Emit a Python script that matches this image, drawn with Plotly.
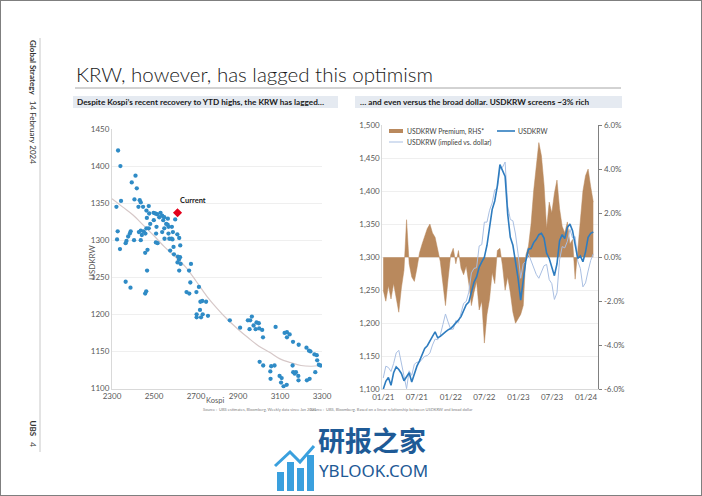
import plotly.graph_objects as go
import pandas as pd

W, H = 702, 496

# ---------------- Left chart data (Kospi vs USDKRW, weekly since Jan 2021) ----------------
kospi = [2329, 2340, 2343, 2321, 2327, 2324, 2338, 2412, 2394, 2418, 2407, 2432, 2437, 2426, 2448,
         2475, 2464, 2477, 2466, 2498, 2506, 2515, 2531, 2525, 2539, 2499, 2549, 2544, 2566, 2558,
         2565, 2601, 2569, 2482, 2512, 2549, 2464, 2437, 2451, 2428, 2389, 2385, 2377, 2369, 2365,
         2459, 2442, 2437, 2405, 2475, 2510, 2539, 2569, 2585, 2590, 2584, 2611, 2620, 2625, 2588,
         2573, 2550, 2509, 2517, 2593, 2469, 2458, 2577, 2595, 2614, 2624,
         2612, 2619, 2627, 2620, 2676, 2667, 2467, 2365, 2388, 2458, 2463, 2673, 2714, 2655, 2668,
         2702, 2730, 2721, 2748, 2719, 2732, 2703, 2703, 2724, 2757, 2861, 2947, 2958, 2966, 2988,
         2999, 2974, 2910, 2955, 2984, 3001, 3015, 3019, 3079, 3122, 3133, 3146, 3133, 3162, 3189,
         3226, 3238, 3245, 3264, 3275, 3277, 3285, 3293, 3003, 3020, 3058, 3074, 3054, 3160, 3163,
         3176, 3187, 3170, 3055, 3098, 3108, 3105, 3117, 3132, 3228, 3241, 3268, 3188]
usdkrw = [1421, 1400, 1353, 1345, 1312, 1301, 1288, 1387, 1378, 1370, 1355, 1354, 1351, 1345, 1345,
          1346, 1340, 1336, 1330, 1337, 1336, 1335, 1337, 1331, 1333, 1327, 1331, 1327, 1329, 1322,
          1321, 1328, 1318, 1322, 1318, 1316, 1316, 1313, 1312, 1311, 1312, 1309, 1305, 1299, 1296,
          1309, 1307, 1300, 1300, 1316, 1309, 1311, 1309, 1318, 1311, 1302, 1308, 1303, 1293, 1301,
          1302, 1302, 1297, 1296, 1291, 1287, 1283, 1286, 1281, 1278, 1277,
          1270, 1274, 1268, 1259, 1268, 1259, 1259, 1244, 1236, 1228, 1231, 1243, 1237, 1230, 1228,
          1230, 1218, 1217, 1217, 1206, 1200, 1200, 1196, 1196, 1198, 1192, 1192, 1192, 1197, 1189,
          1188, 1185, 1182, 1180, 1180, 1181, 1179, 1169, 1183, 1175, 1176, 1173, 1169, 1163, 1159,
          1155, 1151, 1150, 1146, 1145, 1138, 1132, 1131, 1136, 1131, 1130, 1131, 1123, 1131, 1122,
          1122, 1117, 1120, 1113, 1117, 1114, 1108, 1103, 1105, 1111, 1113, 1122, 1111]
trend_kospi = [2300, 2350, 2400, 2450, 2500, 2550, 2600, 2650, 2700, 2750, 2800, 2850, 2900,
               2950, 3000, 3050, 3100, 3150, 3200, 3250, 3290]
trend_usdkrw = [1356, 1345, 1334, 1320, 1306, 1291, 1278, 1264, 1245, 1225, 1208, 1193, 1180,
                1168, 1157, 1149, 1140, 1135, 1131, 1130, 1131]
current_kospi = [2612]
current_usdkrw = [1337]
left_yticks = [1100, 1150, 1200, 1250, 1300, 1350, 1400, 1450]
left_xticks = [2300, 2500, 2700, 2900, 3100, 3300]

# ---------------- Right chart data (bi-weekly, Jan 2021 - Feb 2024) ----------------
dates = pd.date_range("2021-01-01", periods=82, freq="14D")
premium_pct = [-1.5, -2.0, -1.3, -1.9, -1.2, -1.8, -2.5, -1.4, -0.6, 1.7,
               -0.3, -0.9, -1.1, -0.5, 0.2, 0.6, 1.0, 1.3, 1.5, 1.1,
               0.9, 0.3, -0.2, -1.2, -2.2, -1.0, 0.1, 0.4, -0.3, 0.3,
               -0.5, -0.8, -0.4, -1.2, -2.2, -1.6, -1.1, -2.4, -2.0, -3.9,
               -2.6, -1.9, -0.7, -1.2, 0.3, 0.4, -0.4, -1.5, -0.9, -1.6,
               -2.5, -3.0, -2.8, -2.6, -2.2, 0.1, 0.5, 1.5, 3.0, 4.2,
               5.2, 4.6, 3.3, 1.3, 2.5, 2.0, 2.9, 3.5, 2.2, 1.4,
               1.1, 1.6, 0.6, 0.8, -1.0, 0.3, 1.5, 3.0, 3.7, 4.0,
               3.2, 2.5]
usdkrw_actual = [1100, 1112, 1118, 1106, 1125, 1134, 1130, 1124, 1113, 1120,
                 1125, 1111, 1125, 1135, 1143, 1152, 1162, 1166, 1172, 1180,
                 1187, 1178, 1180, 1184, 1187, 1190, 1192, 1196, 1200, 1205,
                 1210, 1220, 1228, 1232, 1248, 1262, 1270, 1285, 1293, 1300,
                 1318, 1345, 1372, 1385, 1408, 1440, 1430, 1422, 1365, 1330,
                 1318, 1295, 1268, 1235, 1262, 1295, 1312, 1313, 1322, 1327,
                 1334, 1336, 1329, 1306, 1298, 1285, 1272, 1290, 1325, 1334,
                 1328, 1345, 1350, 1340, 1318, 1298, 1302, 1293, 1308, 1330,
                 1336, 1338]
usdkrw_implied = [1117, 1135, 1133, 1127, 1139, 1155, 1159, 1140, 1120, 1101,
                  1128, 1121, 1138, 1141, 1141, 1145, 1150, 1151, 1155, 1167,
                  1176, 1175, 1182, 1198, 1214, 1202, 1191, 1191, 1204, 1201,
                  1216, 1230, 1233, 1247, 1276, 1283, 1284, 1317, 1319, 1353,
                  1353, 1371, 1382, 1402, 1404, 1434, 1436, 1444, 1377, 1357,
                  1355, 1335, 1305, 1268, 1290, 1294, 1305, 1294, 1283, 1274,
                  1268, 1277, 1287, 1289, 1266, 1260, 1236, 1246, 1296, 1316,
                  1314, 1324, 1342, 1329, 1331, 1294, 1283, 1255, 1261, 1279,
                  1295, 1305]
right_lticks = [1100, 1150, 1200, 1250, 1300, 1350, 1400, 1450, 1500]
right_rticks = [-6, -4, -2, 0, 2, 4, 6]
right_rlabels = ["-6.0%", "-4.0%", "-2.0%", "0.0%", "2.0%", "4.0%", "6.0%"]

# ---------------- colours / helpers ----------------
BLUE_DOT = "#2f8bc6"
RED = "#e3001b"
TREND = "#d6c8c8"
BROWN = "#b9895d"
BLUE_LINE = "#2e7cbf"
LIGHT_LINE = "#a9bfe2"
TICK_FONT = dict(family="Lato, Open Sans, sans-serif", size=8, color="#595959")
GRID = "#efefef"
AXLINE = "#d9d9d9"


def px(x):
    return x / W


def py(y):
    return 1 - y / H


fig = go.Figure()

# left chart
fig.add_trace(go.Scatter(x=trend_kospi, y=trend_usdkrw, mode="lines",
                         line=dict(color=TREND, width=1.2, shape="spline"),
                         xaxis="x", yaxis="y", hoverinfo="skip"))
fig.add_trace(go.Scatter(x=kospi, y=usdkrw, mode="markers",
                         marker=dict(color=BLUE_DOT, size=4.3),
                         xaxis="x", yaxis="y", name="Weekly"))
fig.add_trace(go.Scatter(x=current_kospi, y=current_usdkrw, mode="markers",
                         marker=dict(color=RED, size=7, symbol="diamond"),
                         xaxis="x", yaxis="y", name="Current"))

# right chart
fig.add_trace(go.Scatter(x=dates, y=premium_pct, mode="lines", fill="tozeroy",
                         fillcolor=BROWN, line=dict(color=BROWN, width=0.5),
                         xaxis="x2", yaxis="y2", name="USDKRW Premium, RHS*"))
fig.add_trace(go.Scatter(x=dates, y=usdkrw_implied, mode="lines",
                         line=dict(color=LIGHT_LINE, width=1),
                         xaxis="x2", yaxis="y3", name="USDKRW (implied vs. dollar)"))
fig.add_trace(go.Scatter(x=dates, y=usdkrw_actual, mode="lines",
                         line=dict(color=BLUE_LINE, width=1.6),
                         xaxis="x2", yaxis="y3", name="USDKRW"))

fig.update_layout(
    width=W, height=H,
    margin=dict(l=0, r=0, t=0, b=0),
    paper_bgcolor="white", plot_bgcolor="white",
    showlegend=False,
    font=dict(family="Lato, Open Sans, sans-serif", color="#404040"),
    xaxis=dict(domain=[px(112), px(322)], range=[2300, 3300], tickvals=left_xticks,
               showgrid=False, zeroline=False, showline=True, linecolor=AXLINE,
               ticks="", tickfont=TICK_FONT, anchor="y", automargin=False),
    yaxis=dict(domain=[py(388.5), py(129)], range=[1100, 1450], tickvals=left_yticks,
               showgrid=True, gridcolor=GRID, zeroline=False, showline=True,
               linecolor=AXLINE, ticks="", tickfont=TICK_FONT, anchor="x",
               automargin=False),
    xaxis2=dict(domain=[px(382.3), px(598.3)], type="date",
                range=["2020-12-27", "2024-03-07"], tick0="2021-01-01", dtick="M6",
                tickformat="%m/%y", showgrid=False, zeroline=False, showline=True,
                linecolor=AXLINE, ticks="", tickfont=TICK_FONT, anchor="y2",
                automargin=False),
    yaxis2=dict(domain=[py(389.3), py(125)], range=[-6, 6], side="right", anchor="x2",
                tickvals=right_rticks, ticktext=right_rlabels, showgrid=False,
                zeroline=False, showline=True, linecolor="#808080", linewidth=1,
                ticks="outside", ticklen=3, tickcolor="#808080", tickfont=TICK_FONT,
                automargin=False),
    yaxis3=dict(overlaying="y2", side="left", anchor="x2", range=[1100, 1500],
                tickvals=right_lticks, tickformat=",", showgrid=True, gridcolor=GRID,
                zeroline=False, showline=True, linecolor=AXLINE, ticks="",
                tickfont=TICK_FONT, automargin=False),
)

shapes = []
annotations = []

# frame
shapes.append(dict(type="rect", xref="paper", yref="paper", x0=0, x1=1, y0=0, y1=1,
                   line=dict(color="#7f7f7f", width=2)))
# sidebar vertical rule
shapes.append(dict(type="line", xref="paper", yref="paper", x0=px(40), x1=px(40),
                   y0=py(38), y1=py(452), line=dict(color="#c8c8c8", width=1)))
# title rule
shapes.append(dict(type="line", xref="paper", yref="paper", x0=px(75), x1=px(621),
                   y0=py(88), y1=py(88), line=dict(color="#a6a6a6", width=1)))
# subtitle bars
for x0, x1 in [(73, 338), (355, 622)]:
    shapes.append(dict(type="rect", xref="paper", yref="paper", x0=px(x0), x1=px(x1),
                       y0=py(108), y1=py(96), fillcolor="#e5eaf1", line=dict(width=0),
                       layer="below"))

# title
annotations.append(dict(text="KRW, however, has lagged this optimism", x=px(74), y=py(74),
                        xref="paper", yref="paper", xanchor="left", yanchor="middle",
                        showarrow=False,
                        font=dict(family="Lato, Open Sans, sans-serif", size=20.5,
                                  color="#1a1a1a", weight=300)))
SUB_FONT = dict(family="Lato, sans-serif", size=8.2, color="#1a1a1a")
annotations.append(dict(text="<b>Despite Kospi’s recent recovery to YTD highs, the KRW has lagged…</b>",
                        x=px(75), y=py(102), xref="paper", yref="paper", xanchor="left",
                        yanchor="middle", showarrow=False, font=SUB_FONT))
annotations.append(dict(text="<b>… and even versus the broad dollar. USDKRW screens ~3% rich</b>",
                        x=px(358), y=py(102), xref="paper", yref="paper", xanchor="left",
                        yanchor="middle", showarrow=False, font=SUB_FONT))
# sidebar texts
annotations.append(dict(text="<b>Global Strategy</b>   14 February 2024", x=px(33), y=py(38),
                        xref="paper", yref="paper", xanchor="center", yanchor="top",
                        textangle=90, showarrow=False,
                        font=dict(family="Lato, sans-serif", size=8, color="#333333")))
annotations.append(dict(text="<b>UBS</b>   4", x=px(33), y=py(418),
                        xref="paper", yref="paper", xanchor="center", yanchor="top",
                        textangle=90, showarrow=False,
                        font=dict(family="Lato, sans-serif", size=8, color="#333333")))

# left chart labels
annotations.append(dict(text="USDKRW", x=px(85), y=py(262), xref="paper", yref="paper",
                        textangle=-90, showarrow=False, font=TICK_FONT))
annotations.append(dict(text="Kospi", x=px(225), y=py(400), xref="paper", yref="paper",
                        xanchor="right", yanchor="middle", showarrow=False, borderpad=0,
                        font=dict(family="Lato, sans-serif", size=7.5, color="#595959")))
annotations.append(dict(text="<b>Current</b>", x=current_kospi[0], y=current_usdkrw[0],
                        xref="x", yref="y", xanchor="left", yanchor="bottom", xshift=0,
                        yshift=6, showarrow=False,
                        font=dict(family="Lato, sans-serif", size=7.5, color="#1a1a1a")))
annotations.append(dict(text="Source :  UBS estimates, Bloomberg, Weekly data since Jan 2021",
                        x=px(201), y=py(414), xref="paper", yref="paper", showarrow=False,
                        font=dict(family="Lato, sans-serif", size=4, color="#7f7f7f")))
annotations.append(dict(text="Source :  UBS, Bloomberg. Based on a linear relationship between USDKRW and broad dollar",
                        x=px(475), y=py(414), xref="paper", yref="paper", showarrow=False,
                        font=dict(family="Lato, sans-serif", size=4, color="#7f7f7f")))

# manual legend for right chart
LEG_FONT = dict(family="Lato, sans-serif", size=6.8, color="#404040")
shapes.append(dict(type="rect", xref="paper", yref="paper", x0=px(389), x1=px(403),
                   y0=py(133), y1=py(129), fillcolor=BROWN, line=dict(width=0)))
annotations.append(dict(text="USDKRW Premium, RHS*", x=px(405), y=py(131), xref="paper",
                        yref="paper", xanchor="left", yanchor="middle", showarrow=False,
                        font=LEG_FONT))
shapes.append(dict(type="line", xref="paper", yref="paper", x0=px(497), x1=px(515),
                   y0=py(131), y1=py(131), line=dict(color=BLUE_LINE, width=1.6)))
annotations.append(dict(text="USDKRW", x=px(516), y=py(131), xref="paper", yref="paper",
                        xanchor="left", yanchor="middle", showarrow=False, font=LEG_FONT))
shapes.append(dict(type="line", xref="paper", yref="paper", x0=px(389), x1=px(403),
                   y0=py(142), y1=py(142), line=dict(color=LIGHT_LINE, width=1)))
annotations.append(dict(text="USDKRW (implied vs. dollar)", x=px(405), y=py(142),
                        xref="paper", yref="paper", xanchor="left", yanchor="middle",
                        showarrow=False, font=LEG_FONT))

# watermark
WM = "#1e5a96"
for (bx0, bx1, by0) in [(277, 284, 472), (287, 294, 462), (297, 304, 468), (307, 314, 455)]:
    shapes.append(dict(type="rect", xref="paper", yref="paper", x0=px(bx0), x1=px(bx1),
                       y0=py(491), y1=py(by0), fillcolor="#3aa0de", line=dict(width=0)))
shapes.append(dict(type="path", xref="paper", yref="paper",
                   path=f"M {px(275)} {py(466)} L {px(290)} {py(452)} L {px(300)} {py(462)} L {px(314)} {py(446)}",
                   line=dict(color="#3aa0de", width=3)))
annotations.append(dict(text="<b>研报之家</b>", x=px(372), y=py(461), xref="paper", yref="paper",
                        showarrow=False,
                        font=dict(family="Noto Sans CJK SC", size=27, color=WM)))
annotations.append(dict(text="YBLOOK.COM", x=px(373), y=py(484), xref="paper", yref="paper",
                        showarrow=False,
                        font=dict(family="Noto Sans, sans-serif", size=17, color=WM)))

fig.update_layout(shapes=shapes, annotations=annotations)
fig.write_html("out.html", config={"displayModeBar": False},
               post_script="document.body.style.margin='0px';document.body.style.overflow='hidden';")
